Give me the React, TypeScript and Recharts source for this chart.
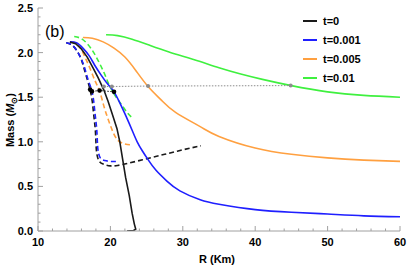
import { Line, LineChart, XAxis, YAxis } from "recharts";

type Pt = { r: number; m: number };

const pts = (rows: number[][]): Pt[] => rows.map(([r, m]) => ({ r, m }));

// tick values on the frame (major + minor)
const xTicks = [10, 12, 14, 16, 18, 20, 22, 24, 26, 28, 30, 32, 34, 36, 38, 40, 42, 44, 46, 48, 50, 52, 54, 56, 58, 60];
const yTicks = [0, 0.1, 0.2, 0.3, 0.4, 0.5, 0.6, 0.7, 0.8, 0.9, 1, 1.1, 1.2, 1.3, 1.4, 1.5, 1.6, 1.7, 1.8, 1.9, 2, 2.1, 2.2, 2.3, 2.4, 2.5];
const xMajor = [10, 20, 30, 40, 50, 60];
const yMajor = [0, 0.5, 1, 1.5, 2, 2.5];

// solid curves
const t0Solid = pts([
	[14.4, 2.12], [15.2, 2.1], [16.0, 2.04], [16.8, 1.95], [17.6, 1.83], [18.3, 1.72], [19.1, 1.58],
	[19.7, 1.45], [20.3, 1.3], [20.9, 1.15], [21.3, 1.0], [21.7, 0.8], [22.1, 0.6], [22.6, 0.4],
	[23.0, 0.2], [23.3, 0.08], [23.5, 0.02], [23.2, 0.005], [22.3, 0.0],
]);
const t001Solid = pts([
	[14.4, 2.12], [15.3, 2.11], [16.2, 2.05], [17.1, 1.96], [17.9, 1.85], [18.7, 1.75], [19.6, 1.65],
	[20.5, 1.56], [21.4, 1.42], [22.2, 1.28], [23.0, 1.13], [23.7, 1.0], [24.4, 0.9], [25.2, 0.8],
	[26.3, 0.68], [27.8, 0.56], [29.6, 0.45], [32.4, 0.35], [35, 0.3], [40, 0.24], [45, 0.21],
	[50, 0.19], [55, 0.17], [60, 0.16],
]);
const t005Solid = pts([
	[16.2, 2.17], [17.5, 2.16], [19, 2.12], [20.5, 2.05], [22, 1.95], [23.5, 1.8], [25.2, 1.62],
	[27, 1.47], [29, 1.33], [32.4, 1.17], [35, 1.06], [40, 0.93], [45, 0.86], [50, 0.82],
	[55, 0.795], [60, 0.78],
]);
const t01Solid = pts([
	[19.4, 2.2], [21, 2.19], [23, 2.15], [25.5, 2.08], [28, 2.01], [30, 1.96], [32.4, 1.9],
	[35, 1.83], [38, 1.76], [41, 1.7], [45, 1.63], [50, 1.56], [55, 1.52], [60, 1.5],
]);

// dashed curves
const t0Dashed = pts([
	[13.9, 2.11], [14.6, 2.09], [15.3, 2.03], [15.9, 1.94], [16.3, 1.84], [16.8, 1.7], [17.2, 1.58],
	[17.5, 1.45], [17.7, 1.3], [17.9, 1.15], [18.0, 1.0], [18.1, 0.88], [18.4, 0.79], [19.0, 0.75],
	[20.0, 0.73], [21.0, 0.735], [22.5, 0.76], [25, 0.81], [27.5, 0.86], [30, 0.91], [32.5, 0.955],
]);
const t001Dashed = pts([
	[13.9, 2.11], [14.6, 2.09], [15.3, 2.03], [15.9, 1.94], [16.4, 1.84], [16.9, 1.7], [17.4, 1.58],
	[17.7, 1.45], [17.9, 1.3], [18.1, 1.15], [18.2, 1.0], [18.3, 0.9], [18.6, 0.82], [19.2, 0.79],
	[20.0, 0.78], [20.9, 0.78],
]);
const t005Dashed = pts([
	[14.5, 2.12], [15.3, 2.1], [16.0, 2.03], [16.6, 1.93], [17.3, 1.8], [17.9, 1.68], [18.5, 1.57],
	[19.1, 1.4], [19.7, 1.25], [20.3, 1.12], [21.0, 1.02], [22, 0.975], [23, 0.965],
]);
const t01Dashed = pts([
	[15.0, 2.18], [15.9, 2.16], [16.8, 2.1], [17.7, 2.0], [18.5, 1.88], [19.2, 1.76], [19.7, 1.66],
	[20.2, 1.58], [20.8, 1.5], [21.5, 1.42], [22.3, 1.33], [23.0, 1.27],
]);

// connecting dotted lines
const blackLink = pts([[17.2, 1.585], [17.45, 1.565], [18.5, 1.575], [20.5, 1.56]]);
const grayLink = pts([[19.1, 1.62], [20.2, 1.62], [25.2, 1.625], [44.9, 1.63]]);

const legendItems = [
	{ label: "t=0", color: "#1a1a1a" },
	{ label: "t=0.001", color: "#1f1fff" },
	{ label: "t=0.005", color: "#ffa040" },
	{ label: "t=0.01", color: "#3ff03f" },
];

const font = "'Liberation Sans', Arial, sans-serif";
const frame = "#a0a0a0";

function FrameTick(props: any) {
	const { x, y, payload, side } = props;
	const v: number = payload.value;
	const isX = side === "bottom" || side === "top";
	const major = isX ? xMajor.includes(v) : yMajor.some((t) => Math.abs(t - v) < 1e-6);
	const len = major ? 5 : 2.5;
	let line;
	if (side === "bottom") line = <line x1={x} y1={y} x2={x} y2={y - len} />;
	else if (side === "top") line = <line x1={x} y1={y} x2={x} y2={y + len} />;
	else if (side === "left") line = <line x1={x} y1={y} x2={x + len} y2={y} />;
	else line = <line x1={x} y1={y} x2={x - len} y2={y} />;
	return (
		<g stroke={frame} strokeWidth={1}>
			{line}
			{major && side === "bottom" && (
				<text x={x} y={y + 15} textAnchor="middle" stroke="none" fill="#000" fontFamily={font} fontWeight="bold" fontSize={11}>
					{String(v)}
				</text>
			)}
			{major && side === "left" && (
				<text x={x - 5} y={y + 4} textAnchor="end" stroke="none" fill="#000" fontFamily={font} fontWeight="bold" fontSize={11}>
					{v.toFixed(1)}
				</text>
			)}
		</g>
	);
}

export default function App() {
	const solid = { type: "natural" as const, dataKey: "m", dot: false, isAnimationActive: false, strokeWidth: 1.6 };
	const dashed = { ...solid, strokeDasharray: "5 3" };
	return (
		<div style={{ position: "relative", width: 407, height: 269, background: "#fff" }}>
			<style>{`body{margin:0}`}</style>
			<LineChart width={407} height={269} margin={{ top: 8, right: 7, left: 0, bottom: 0 }}>
				<XAxis xAxisId={0} dataKey="r" type="number" domain={[10, 60]} allowDataOverflow ticks={xTicks} interval={0}
					tickSize={0} tickMargin={0} tickLine={false} axisLine={{ stroke: frame }} height={38}
					tick={<FrameTick side="bottom" />} />
				<XAxis xAxisId="top" orientation="top" dataKey="r" type="number" domain={[10, 60]} allowDataOverflow ticks={xTicks} interval={0}
					tickSize={0} tickMargin={0} tickLine={false} axisLine={{ stroke: frame }} height={0}
					tick={<FrameTick side="top" />} />
				<YAxis yAxisId={0} type="number" domain={[0, 2.5]} allowDataOverflow ticks={yTicks} interval={0}
					tickSize={0} tickMargin={0} tickLine={false} axisLine={{ stroke: frame }} width={38}
					tick={<FrameTick side="left" />} />
				<YAxis yAxisId="right" orientation="right" type="number" domain={[0, 2.5]} allowDataOverflow ticks={yTicks} interval={0}
					tickSize={0} tickMargin={0} tickLine={false} axisLine={{ stroke: frame }} width={0}
					tick={<FrameTick side="right" />} />

				{/* invisible series so the top / right frame axes get drawn */}
				<Line {...solid} xAxisId="top" yAxisId="right" data={t01Solid} stroke="none" />

				<Line {...dashed} data={t0Dashed} stroke="#1a1a1a" />
				<Line {...dashed} data={t001Dashed} stroke="#1f1fff" />
				<Line {...dashed} data={t005Dashed} stroke="#ffa040" />
				<Line {...dashed} data={t01Dashed} stroke="#3ff03f" />
				<Line {...solid} data={t005Solid} stroke="#ffa040" />
				<Line {...solid} data={t01Solid} stroke="#3ff03f" />
				<Line {...solid} data={t001Solid} stroke="#1f1fff" />
				<Line {...solid} type="linear" data={t0Solid} stroke="#1a1a1a" />
				<Line {...solid} type="linear" data={grayLink} stroke="#8c8c8c" strokeWidth={1} strokeDasharray="1.5 1.5"
					dot={{ r: 2, fill: "#8c8c8c", stroke: "none" }} />
				<Line {...solid} type="linear" data={blackLink} stroke="#1a1a1a" strokeWidth={1} strokeDasharray="1.5 1.5"
					dot={{ r: 2.3, fill: "#000", stroke: "none" }} />

				<text x={45} y={37} fontFamily={font} fontSize={16} fill="#000">(b)</text>
				<text x={217} y={263} textAnchor="middle" fontFamily={font} fontWeight="bold" fontSize={11} fill="#000">R (Km)</text>
				<text transform="translate(14,120) rotate(-90)" textAnchor="middle" fontFamily={font} fontWeight="bold" fontSize={11} fill="#000">
					Mass (<tspan fontStyle="italic">M</tspan><tspan dy={3} fontSize={8}>⊙</tspan><tspan dy={-3}>)</tspan>
				</text>
			</LineChart>
			<div style={{ position: "absolute", top: 11, left: 303, fontFamily: font, fontWeight: "bold", fontSize: 11 }}>
				{legendItems.map((it) => (
					<div key={it.label} style={{ display: "flex", alignItems: "center", height: 19 }}>
						<div style={{ width: 14, height: 2, background: it.color, marginRight: 6 }} />
						<span>{it.label}</span>
					</div>
				))}
			</div>
		</div>
	);
}
